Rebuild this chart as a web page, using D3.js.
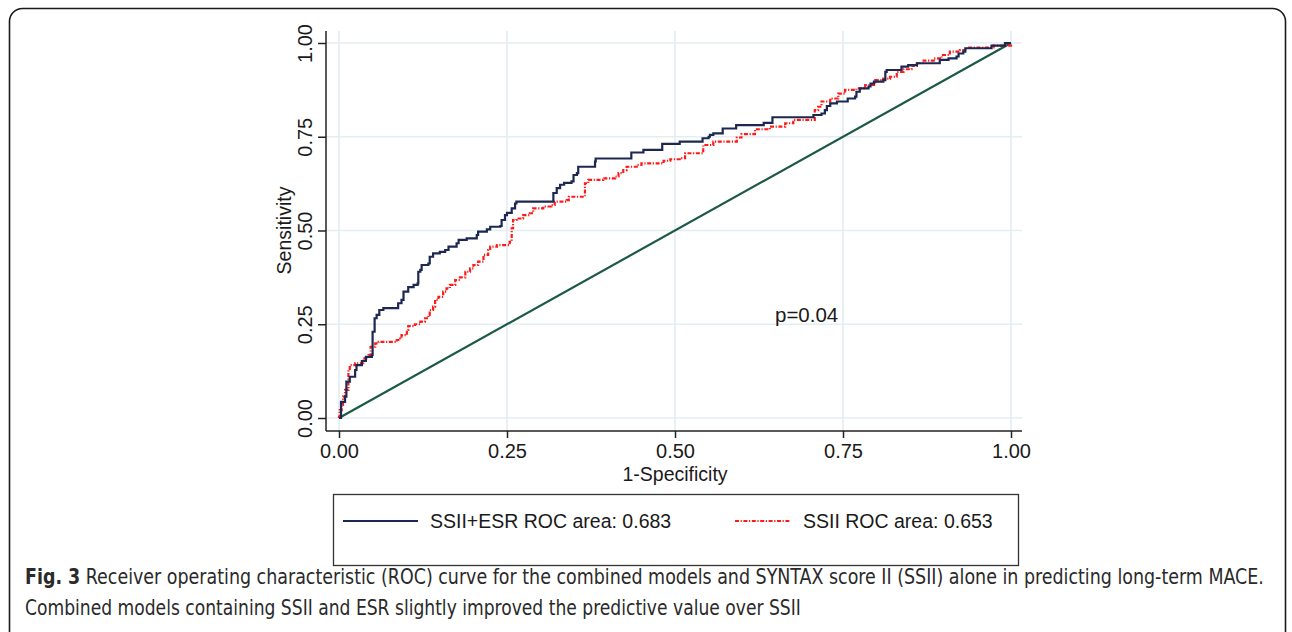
<!DOCTYPE html>
<html>
<head>
<meta charset="utf-8">
<script src="https://cdn.jsdelivr.net/npm/d3@7"></script>
<style>
  html, body { margin: 0; padding: 0; background: #fff; }
  svg { display: block; }
</style>
</head>
<body>
<script>
var outerWidth = 1292;
var outerHeight = 632;

// ROC curve vertices (1-specificity, sensitivity)
var comboFpr = [0, 0.003, 0.009, 0.011, 0.016, 0.024, 0.026, 0.034, 0.040, 0.049, 0.050, 0.053, 0.056, 0.060, 0.066,
  0.088, 0.093, 0.096, 0.103, 0.111, 0.117, 0.118, 0.121, 0.123, 0.133, 0.135, 0.140, 0.150, 0.158, 0.163, 0.175,
  0.178, 0.190, 0.205, 0.207, 0.220, 0.225, 0.240, 0.242, 0.247, 0.250, 0.257, 0.262, 0.264, 0.319, 0.324, 0.329,
  0.335, 0.346, 0.349, 0.354, 0.356, 0.381, 0.382, 0.435, 0.453, 0.481, 0.507, 0.541, 0.550, 0.552, 0.557, 0.571,
  0.591, 0.632, 0.645, 0.706, 0.718, 0.723, 0.726, 0.731, 0.741, 0.757, 0.768, 0.770, 0.775, 0.788, 0.791, 0.796,
  0.810, 0.813, 0.815, 0.837, 0.847, 0.860, 0.894, 0.907, 0.919, 0.922, 0.929, 0.932, 0.971, 0.991, 1];
var comboTpr = [0, 0.043, 0.057, 0.097, 0.110, 0.128, 0.141, 0.152, 0.163, 0.168, 0.230, 0.266, 0.275, 0.288, 0.293,
  0.306, 0.315, 0.337, 0.349, 0.355, 0.359, 0.390, 0.395, 0.408, 0.412, 0.430, 0.439, 0.443, 0.448, 0.457, 0.466,
  0.475, 0.479, 0.488, 0.497, 0.503, 0.510, 0.512, 0.528, 0.541, 0.547, 0.559, 0.572, 0.577, 0.600, 0.613, 0.622,
  0.627, 0.631, 0.648, 0.653, 0.670, 0.684, 0.692, 0.708, 0.715, 0.731, 0.737, 0.746, 0.750, 0.755, 0.759, 0.772,
  0.781, 0.787, 0.802, 0.808, 0.812, 0.821, 0.832, 0.839, 0.844, 0.852, 0.857, 0.870, 0.879, 0.884, 0.892, 0.897,
  0.901, 0.923, 0.928, 0.937, 0.941, 0.946, 0.955, 0.959, 0.964, 0.972, 0.977, 0.986, 0.993, 1, 1];

var ssiiFpr = [0, 0, 0.001, 0.004, 0.006, 0.009, 0.014, 0.016, 0.024, 0.036, 0.044, 0.047, 0.054, 0.059, 0.086,
  0.091, 0.093, 0.101, 0.103, 0.113, 0.121, 0.128, 0.133, 0.135, 0.140, 0.143, 0.148, 0.155, 0.160, 0.165, 0.173,
  0.180, 0.188, 0.195, 0.200, 0.207, 0.215, 0.222, 0.225, 0.235, 0.254, 0.257, 0.259, 0.264, 0.274, 0.284, 0.289,
  0.304, 0.316, 0.321, 0.339, 0.342, 0.366, 0.371, 0.393, 0.411, 0.416, 0.423, 0.428, 0.443, 0.450, 0.483, 0.493,
  0.507, 0.515, 0.542, 0.557, 0.592, 0.599, 0.619, 0.641, 0.664, 0.676, 0.708, 0.713, 0.718, 0.731, 0.743, 0.753,
  0.770, 0.783, 0.798, 0.810, 0.820, 0.830, 0.840, 0.852, 0.860, 0.870, 0.885, 0.897, 0.909, 0.924, 0.934, 0.974, 1];
var ssiiTpr = [0, 0.003, 0.021, 0.035, 0.057, 0.075, 0.128, 0.141, 0.146, 0.159, 0.168, 0.190, 0.199, 0.203, 0.208,
  0.212, 0.221, 0.235, 0.245, 0.250, 0.257, 0.266, 0.275, 0.288, 0.297, 0.315, 0.323, 0.337, 0.346, 0.355, 0.368,
  0.375, 0.390, 0.399, 0.408, 0.417, 0.435, 0.448, 0.457, 0.461, 0.470, 0.506, 0.528, 0.532, 0.541, 0.546, 0.559,
  0.564, 0.568, 0.577, 0.581, 0.590, 0.626, 0.635, 0.639, 0.644, 0.653, 0.661, 0.670, 0.675, 0.679, 0.686, 0.690,
  0.693, 0.706, 0.728, 0.737, 0.748, 0.757, 0.770, 0.777, 0.786, 0.795, 0.821, 0.830, 0.844, 0.852, 0.865, 0.875,
  0.879, 0.888, 0.901, 0.905, 0.910, 0.923, 0.930, 0.939, 0.946, 0.953, 0.959, 0.968, 0.977, 0.981, 0.988, 0.993, 1];

var tickValues = [0, 0.25, 0.5, 0.75, 1];
var legendLabels = ["SSII+ESR ROC area: 0.683", "SSII ROC area: 0.653"];
var pLabel = "p=0.04";
var captionBold = "Fig. 3";
var captionLines = [
  " Receiver operating characteristic (ROC) curve for the combined models and SYNTAX score II (SSII) alone in predicting long-term MACE.",
  "Combined models containing SSII and ESR slightly improved the predictive value over SSII"
];

var font = "'Liberation Sans', Arial, sans-serif";
var blue = "#1c2852";
var red = "#ff1a1a";
var green = "#1d5a43";
var gridColor = "#e4edf1";

var svg = d3.select("body").append("svg")
  .attr("width", outerWidth)
  .attr("height", outerHeight);

// outer panel frame (open at the bottom of the crop)
svg.append("rect")
  .attr("x", 9.5).attr("y", 8.5)
  .attr("width", 1276).attr("height", 720)
  .attr("rx", 13)
  .attr("fill", "none").attr("stroke", "#1a1a1a").attr("stroke-width", 1.6);

var x = d3.scaleLinear().domain([0, 1]).range([339, 1011]);
var y = d3.scaleLinear().domain([0, 1]).range([418, 43]);
var axisLeftX = 326, axisBottomY = 431, plotTop = 31, plotRight = 1022;

var g = svg.append("g");

// grid
g.selectAll(".vgrid").data(tickValues).enter().append("line")
  .attr("x1", function(d) { return x(d); }).attr("x2", function(d) { return x(d); })
  .attr("y1", plotTop).attr("y2", axisBottomY)
  .attr("stroke", gridColor).attr("stroke-width", 1.6);
g.selectAll(".hgrid").data(tickValues).enter().append("line")
  .attr("y1", function(d) { return y(d); }).attr("y2", function(d) { return y(d); })
  .attr("x1", axisLeftX).attr("x2", plotRight)
  .attr("stroke", gridColor).attr("stroke-width", 1.6);

// axes
var xAxis = d3.axisBottom(x).tickValues(tickValues).tickFormat(d3.format(".2f")).tickSize(7).tickPadding(6);
var gx = g.append("g").attr("transform", "translate(0," + axisBottomY + ")").call(xAxis);
gx.select(".domain").attr("d", "M" + axisLeftX + ",0H" + plotRight);
gx.selectAll("line, path").attr("stroke", "#222").attr("stroke-width", 1.5);
gx.selectAll("text").attr("font-family", font).attr("font-size", 20).attr("fill", "#1a1a1a");

var yAxis = d3.axisLeft(y).tickValues(tickValues).tickFormat(d3.format(".2f")).tickSize(8).tickPadding(0);
var gy = g.append("g").attr("transform", "translate(" + axisLeftX + ",0)").call(yAxis);
gy.select(".domain").attr("d", "M0," + plotTop + "V" + axisBottomY);
gy.selectAll("line, path").attr("stroke", "#222").attr("stroke-width", 1.5);
gy.selectAll("text")
  .attr("x", null).attr("dy", null)
  .attr("text-anchor", "middle")
  .attr("transform", "translate(-14,0) rotate(-90)")
  .attr("font-family", font).attr("font-size", 20).attr("fill", "#1a1a1a");

// axis titles
svg.append("text")
  .attr("x", x(0.5)).attr("y", 481)
  .attr("text-anchor", "middle")
  .attr("font-family", font).attr("font-size", 19.5).attr("fill", "#1a1a1a")
  .text("1-Specificity");
svg.append("text")
  .attr("transform", "translate(291," + y(0.5) + ") rotate(-90)")
  .attr("text-anchor", "middle")
  .attr("font-family", font).attr("font-size", 19.5).attr("fill", "#1a1a1a")
  .text("Sensitivity");

// reference diagonal
g.append("line")
  .attr("x1", x(0)).attr("y1", y(0)).attr("x2", x(1)).attr("y2", y(1))
  .attr("stroke", green).attr("stroke-width", 2.2);

var line = d3.line()
  .x(function(d) { return x(d[0]); })
  .y(function(d) { return y(d[1]); })
  .curve(d3.curveStepAfter);

var ssiiPts = d3.zip(ssiiFpr, ssiiTpr);
var comboPts = d3.zip(comboFpr, comboTpr);

g.append("path").datum(ssiiPts)
  .attr("d", line).attr("fill", "none")
  .attr("stroke", red).attr("stroke-width", 2.2)
  .attr("stroke-dasharray", "4,1.6,1.2,1.6");

g.append("path").datum(comboPts)
  .attr("d", line).attr("fill", "none")
  .attr("stroke", blue).attr("stroke-width", 2.2);

svg.append("text")
  .attr("x", 775).attr("y", 322)
  .attr("font-family", font).attr("font-size", 20.5).attr("fill", "#1a1a1a")
  .text(pLabel);

// legend
var legend = svg.append("g");
legend.append("rect")
  .attr("x", 333.5).attr("y", 494.5).attr("width", 685).attr("height", 71)
  .attr("fill", "#fff").attr("stroke", "#333").attr("stroke-width", 1.3);
var legendItems = [
  {x1: 343, x2: 418, tx: 430, color: blue, dash: null},
  {x1: 735, x2: 790, tx: 803, color: red, dash: "4,1.6,1.2,1.6"}
];
legendItems.forEach(function(it, i) {
  legend.append("line")
    .attr("x1", it.x1).attr("x2", it.x2).attr("y1", 521).attr("y2", 521)
    .attr("stroke", it.color).attr("stroke-width", 2.2)
    .attr("stroke-dasharray", it.dash);
  legend.append("text")
    .attr("x", it.tx).attr("y", 528)
    .attr("font-family", font).attr("font-size", 19.5).attr("fill", "#1a1a1a")
    .text(legendLabels[i]);
});

// caption, fitted to the widths seen in the picture
var capFont = "'Liberation Sans Narrow', 'DejaVu Sans Condensed', 'Open Sans', sans-serif";
var capTargets = [1239, 776];
var capBaselines = [584, 615];
captionLines.forEach(function(txt, i) {
  var t = svg.append("text")
    .attr("font-family", capFont).attr("font-size", 21).attr("fill", "#2a2a2a");
  if (i === 0) {
    t.append("tspan").attr("font-weight", "bold").text(captionBold);
  }
  t.append("tspan").text(txt);
  var w = t.node().getComputedTextLength();
  t.attr("transform", "translate(25," + capBaselines[i] + ") scale(" + (capTargets[i] / w) + ",1)");
});
</script>
</body>
</html>
